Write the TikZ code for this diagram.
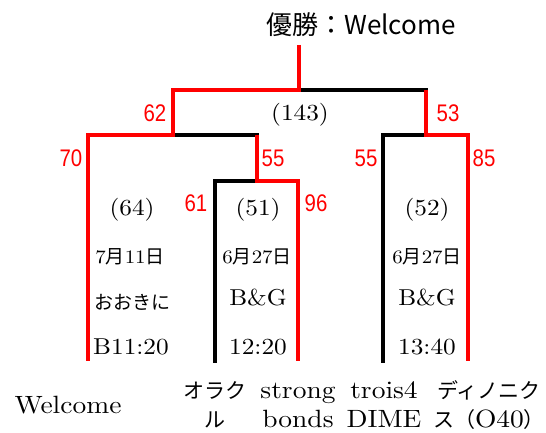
\documentclass[tikz,border=0pt]{standalone}
\usepackage{fontspec}
\setmainfont{lmroman10-regular.otf}[FakeStretch=1.1]
\newfontfamily\jp{Noto Sans CJK JP}
\newfontfamily\numfont[FakeStretch=0.85]{Liberation Sans}
\newcommand\kana[1]{{\jp\fontsize{21}{29}\selectfont #1}}

\begin{document}
\begin{tikzpicture}[x=1pt,y=-1pt,line width=4pt,
  win/.style={red},
  lose/.style={black,line cap=rect},
  score/.style={red,inner sep=0pt,font=\numfont\fontsize{24}{24}\selectfont},
  total/.style={inner sep=0pt,font=\fontsize{23}{28}\selectfont},
  info/.style={inner sep=0pt,font=\fontsize{19}{22}\selectfont},
  team/.style={inner sep=0pt,align=center,font=\fontsize{25}{29}\selectfont}]
\useasboundingbox (0,0) rectangle (546,433);
% junctions
\coordinate (top) at (299,45);
\coordinate (fin) at (299,90);
\coordinate (sfL) at (173,90);
\coordinate (sfR) at (426,90);
\coordinate (qfL) at (173,135);
\coordinate (qfR) at (426,135);
\coordinate (mL) at (257,135);
\coordinate (rL) at (257,181);
% line ends
\coordinate (t1) at (88,361);
\coordinate (t2) at (215,361);
\coordinate (t3) at (298,361);
\coordinate (t4) at (383,361);
\coordinate (t5) at (468,361);
% losing side
\draw[lose] (fin) -- (sfR);
\draw[lose] (qfL) -- (mL);
\draw[lose] (t2) -- (t2 |- rL) -- (rL);
\draw[lose] (t4) -- (t4 |- qfR) -- (qfR);
% winning side
\draw[win] (top) -- (fin) -- (sfL) -- (qfL) -- (t1 |- qfL) -- (t1);
\draw[win] (mL) -- (rL) -- (t3 |- rL) -- (t3);
\draw[win] (sfR) -- (qfR) -- (t5 |- qfR) -- (t5);
% title
\node[inner sep=0pt,font=\jp\fontsize{26}{30}\selectfont] (title) at (361,25) {優勝：Welcome};
% scores
\node[score] (s62) at (155,113) {62};
\node[score] (s53) at (448,113) {53};
\node[score] (s70) at (71,158) {70};
\node[score] (s55a) at (273,158) {55};
\node[score] (s55b) at (366,158) {55};
\node[score] (s85) at (484,158) {85};
\node[score] (s61) at (196,203) {61};
\node[score] (s96) at (316,203) {96};
% match info
\node[total] (tF) at (300,115) {(143)};
\node[total] (tA) at (132,210) {(64)};
\node[total] (tB) at (258,210) {(51)};
\node[total] (tC) at (427,210) {(52)};
\node[info] (dA) at (130,257) {7{\jp 月}11{\jp 日}};
\node[info] (dB) at (257,257) {6{\jp 月}27{\jp 日}};
\node[info] (dC) at (427,257) {6{\jp 月}27{\jp 日}};
\node[info] (pA) at (132,302) {\jp おおきに};
\node[total] (pB) at (258,298) {B\&G};
\node[total] (pC) at (427,298) {B\&G};
\node[total] (hA) at (131,347) {B11:20};
\node[total] (hB) at (258,347) {12:20};
\node[total] (hC) at (427,347) {13:40};
% teams
\node[team] (nA) at (68,405) {Welcome};
\node[team] (nB) at (215,405) {\kana{オラク}\\\kana{ル}};
\node[team] (nC) at (298,405) {strong\\bonds};
\node[team] (nD) at (384,405) {trois4\\DIME};
\node[team] (nE) at (489,405) {\kana{ディノニク}\\\kana{ス（}O40\kana{）}};
\end{tikzpicture}
\end{document}
